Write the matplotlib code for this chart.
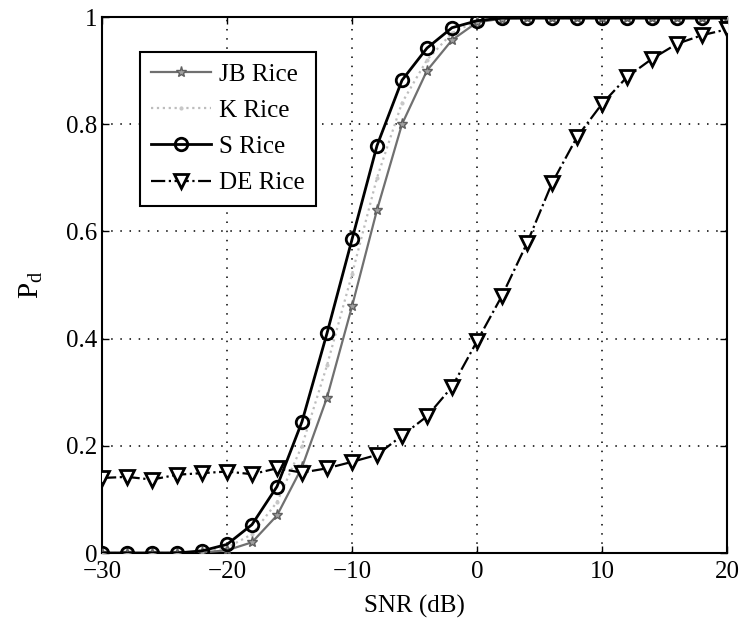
import matplotlib
matplotlib.use('Agg')
import matplotlib.pyplot as plt
import numpy as np

plt.rcParams['font.family'] = ['Liberation Serif', 'DejaVu Serif']
plt.rcParams['mathtext.fontset'] = 'custom'
plt.rcParams['mathtext.rm'] = 'Liberation Serif'
plt.rcParams['mathtext.it'] = 'Liberation Serif'

# detection probability vs SNR, one point every 2 dB
snr = np.arange(-30, 21, 2)

jb_rice = [0, 0, 0, 0, 0.001, 0.005, 0.02, 0.07, 0.16, 0.29, 0.46, 0.64,
           0.80, 0.90, 0.957, 0.99, 0.997, 0.998, 0.998, 0.998, 0.998,
           0.998, 0.998, 0.998, 0.998, 0.998]
k_rice = [0, 0, 0, 0, 0.002, 0.01, 0.035, 0.095, 0.2, 0.35, 0.52, 0.70,
          0.84, 0.92, 0.97, 0.993, 0.998, 0.998, 0.998, 0.998, 0.998,
          0.998, 0.998, 0.998, 0.998, 0.998]
s_rice = [0, 0, 0, 0, 0.004, 0.016, 0.053, 0.124, 0.245, 0.41, 0.585, 0.76,
          0.882, 0.942, 0.98, 0.993, 0.998, 0.998, 0.998, 0.998, 0.998,
          0.998, 0.998, 0.998, 0.998, 0.998]
de_rice = [0.14, 0.142, 0.137, 0.146, 0.149, 0.152, 0.147, 0.158, 0.15,
           0.158, 0.17, 0.183, 0.219, 0.255, 0.31, 0.395, 0.48, 0.578,
           0.69, 0.776, 0.838, 0.888, 0.922, 0.95, 0.966, 0.977]

fig = plt.figure(figsize=(7.44, 6.31), dpi=100)
ax = fig.add_axes([102 / 744, 1 - 553 / 631, 625 / 744, 536 / 631])

ax.plot(snr, jb_rice, color='#707070', lw=1.6, marker='*', ms=8,
        mfc='#a0a0a0', mec='#606060', label='JB Rice', zorder=3)
ax.plot(snr, k_rice, color='#bdbdbd', lw=1.6, ls=':', marker='.', ms=4,
        mfc='#c8c8c8', mec='#c8c8c8', label='K Rice', zorder=2)
ax.plot(snr, s_rice, color='black', lw=2, marker='o', ms=9, mfc='none',
        mew=2, label='S Rice', zorder=4)
ax.plot(snr, de_rice, color='black', lw=1.6, ls='-.', marker='v', ms=9.5,
        mfc='white', mec='black', mew=2, label='DE Rice', zorder=5)

ax.set_xlim(-30, 20)
ax.set_ylim(0, 1)
ax.set_xticks([-30, -20, -10, 0, 10, 20])
ax.set_yticks([0, 0.2, 0.4, 0.6, 0.8, 1])
ax.set_yticklabels(['0', '0.2', '0.4', '0.6', '0.8', '1'])
ax.grid(True, ls=(0, (1, 5)), color='black', lw=1.1)
ax.tick_params(direction='in', top=True, right=True, labelsize=18,
               length=5, width=1)
ax.tick_params(axis='x', pad=6)
for sp in ax.spines.values():
    sp.set_linewidth(1.5)

ax.set_xlabel('SNR (dB)', fontsize=18, labelpad=8)
ax.set_ylabel(r'$\mathrm{P}_\mathrm{d}$', fontsize=21, labelpad=15)

leg = ax.legend(loc='upper left', bbox_to_anchor=(0.061, 0.935),
                borderaxespad=0, fontsize=18, fancybox=False,
                edgecolor='black', framealpha=1, handlelength=2.4,
                handletextpad=0.3, labelspacing=0.55, borderpad=0.45)
leg.get_frame().set_linewidth(1.5)

fig.savefig('out.png', dpi=100)
